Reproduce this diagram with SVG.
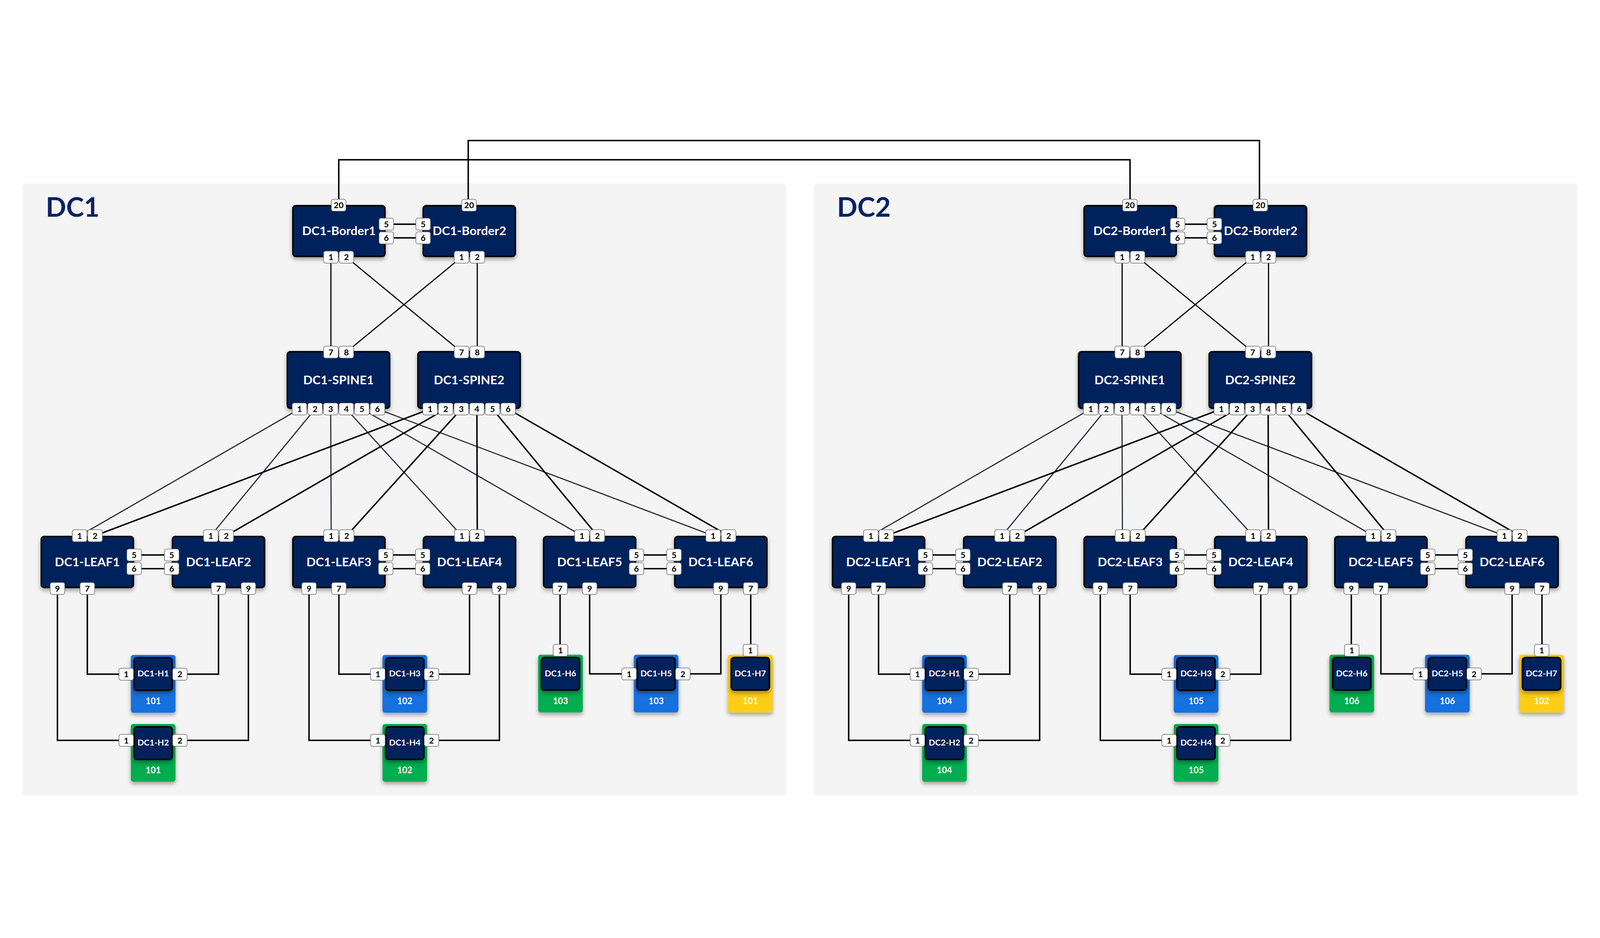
<svg xmlns="http://www.w3.org/2000/svg" width="5488" height="2402" viewBox="0 0 5488 2402">
<defs>
<style>
svg{width:100vw;height:100vh}
.panel{fill:#f4f4f4}
.title{font-family:Lato,'Liberation Sans',sans-serif;font-weight:700;font-size:92px;fill:#0b2260}
.n{fill:#03205c;stroke:#000;stroke-width:5;filter:url(#sh)}
.nl{font-family:Lato,'Liberation Sans',sans-serif;font-weight:700;font-size:42px;fill:#fff;text-anchor:middle}
.p rect{fill:#fff;stroke:#6a6a6a;stroke-width:2}
.p text{font-family:Lato,'Liberation Sans',sans-serif;font-weight:700;font-size:29px;fill:#000;text-anchor:middle}
.hb{fill:#1470de;filter:url(#sh)}
.hg{fill:#00ad50;filter:url(#sh)}
.hy{fill:#fccd16;filter:url(#sh)}
.hi{fill:#03205c;stroke:#000;stroke-width:5;filter:url(#sh)}
.hl{font-family:Lato,'Liberation Sans',sans-serif;font-weight:700;font-size:29px;fill:#fff;text-anchor:middle}
.hv{font-family:Lato,'Liberation Sans',sans-serif;font-weight:700;font-size:30px;fill:#fff;text-anchor:middle}
.lk{fill:none;stroke:#000;stroke-width:5}
.l1{fill:none;stroke:#2a2e36;stroke-width:4}
.l2{fill:none;stroke:#000;stroke-width:5}
.lb{fill:none;stroke:#000;stroke-width:4}
</style>
<filter id="sh" x="-20%" y="-20%" width="140%" height="160%">
<feDropShadow dx="0" dy="8" stdDeviation="7" flood-color="#000" flood-opacity="0.35"/>
</filter>
</defs>
<rect width="5488" height="2402" fill="#fff"/>
<g id="panels">
<rect class="panel" x="77" y="222" width="2620" height="2100" rx="10"/>
<text class="title" x="157" y="335">DC1</text>
<rect class="panel" x="2791" y="222" width="2620" height="2100" rx="10"/>
<text class="title" x="2871" y="335">DC2</text>
</g>
<g id="connectors">
<path class="lk" d="M1162 296V140H3876V296"/>
<path class="lk" d="M1606 296V74H4320V296"/>
<g id="dc1-links">
<path class="lb" d="M1135 474V800M1188 474L1583 800M1583 474L1188 800M1637 474V800"/>
<path class="lk" d="M1325 361H1451.5M1325 408H1451.5"/>
<path class="l1" d="M1027.25 995L273 1430M1080.75 995L723 1430M1134.25 995L1136 1430M1187.75 995L1584 1430M1241.25 995L1996 1430M1294.75 995L2446 1430"/>
<path class="l2" d="M1475.25 995L326 1430M1528.75 995L776 1430M1582.25 995L1189 1430M1635.75 995L1637 1430M1689.25 995L2049 1430M1742.75 995L2499 1430"/>
<path class="lk" d="M460 1496H589M460 1543H589M1323 1496H1450M1323 1543H1450M2183 1496H2312M2183 1543H2312"/>
<path class="lk" d="M299.5 1611V1905H433M749.5 1611V1905H617M197 1611V2132H433M852 1611V2132H617"/>
<path class="lk" d="M1162.5 1611V1905H1296M1610.5 1611V1905H1480M1060 1611V2132H1296M1713 1611V2132H1480"/>
<path class="lk" d="M1921 1611V1823M2022.5 1611V1904H2158M2472.5 1611V1904H2342M2575 1611V1823"/>
</g>
<g id="dc2-links" transform="translate(2714 0)">
<path class="lb" d="M1135 474V800M1188 474L1583 800M1583 474L1188 800M1637 474V800"/>
<path class="lk" d="M1325 361H1451.5M1325 408H1451.5"/>
<path class="l1" d="M1027.25 995L273 1430M1080.75 995L723 1430M1134.25 995L1136 1430M1187.75 995L1584 1430M1241.25 995L1996 1430M1294.75 995L2446 1430"/>
<path class="l2" d="M1475.25 995L326 1430M1528.75 995L776 1430M1582.25 995L1189 1430M1635.75 995L1637 1430M1689.25 995L2049 1430M1742.75 995L2499 1430"/>
<path class="lk" d="M460 1496H589M460 1543H589M1323 1496H1450M1323 1543H1450M2183 1496H2312M2183 1543H2312"/>
<path class="lk" d="M299.5 1611V1905H433M749.5 1611V1905H617M197 1611V2132H433M852 1611V2132H617"/>
<path class="lk" d="M1162.5 1611V1905H1296M1610.5 1611V1905H1480M1060 1611V2132H1296M1713 1611V2132H1480"/>
<path class="lk" d="M1921 1611V1823M2022.5 1611V1904H2158M2472.5 1611V1904H2342M2575 1611V1823"/>
</g>
</g>

<g id="dc1-nodes">
<g id="dc1-border1"><rect class="n" x="1004.5" y="297.5" width="316" height="174" rx="10"/><text class="nl" x="1162.5" y="399">DC1-Border1</text>
<g class="p" transform="translate(1161.5 296)"><rect x="-25" y="-20.5" width="50" height="41" rx="7"/><text y="10.5">20</text></g>
<g class="p" transform="translate(1325 361)"><rect x="-25" y="-20.5" width="50" height="41" rx="7"/><text y="10.5">5</text></g>
<g class="p" transform="translate(1325 408)"><rect x="-25" y="-20.5" width="50" height="41" rx="7"/><text y="10.5">6</text></g>
<g class="p" transform="translate(1135 474)"><rect x="-25" y="-20.5" width="50" height="41" rx="7"/><text y="10.5">1</text></g>
<g class="p" transform="translate(1188 474)"><rect x="-25" y="-20.5" width="50" height="41" rx="7"/><text y="10.5">2</text></g>
</g>
<g id="dc1-border2"><rect class="n" x="1451.5" y="297.5" width="316" height="174" rx="10"/><text class="nl" x="1610" y="399">DC1-Border2</text>
<g class="p" transform="translate(1609 296)"><rect x="-25" y="-20.5" width="50" height="41" rx="7"/><text y="10.5">20</text></g>
<g class="p" transform="translate(1451.5 361)"><rect x="-25" y="-20.5" width="50" height="41" rx="7"/><text y="10.5">5</text></g>
<g class="p" transform="translate(1451.5 408)"><rect x="-25" y="-20.5" width="50" height="41" rx="7"/><text y="10.5">6</text></g>
<g class="p" transform="translate(1583 474)"><rect x="-25" y="-20.5" width="50" height="41" rx="7"/><text y="10.5">1</text></g>
<g class="p" transform="translate(1637 474)"><rect x="-25" y="-20.5" width="50" height="41" rx="7"/><text y="10.5">2</text></g>
</g>
<g id="dc1-spine1"><rect class="n" x="985.5" y="798.5" width="351" height="194" rx="10"/><text class="nl" x="1161" y="910">DC1-SPINE1</text>
<g class="p" transform="translate(1135 800)"><rect x="-25" y="-20.5" width="50" height="41" rx="7"/><text y="10.5">7</text></g>
<g class="p" transform="translate(1188 800)"><rect x="-25" y="-20.5" width="50" height="41" rx="7"/><text y="10.5">8</text></g>
<g class="p" transform="translate(1027.25 995)"><rect x="-25" y="-20.5" width="50" height="41" rx="7"/><text y="10.5">1</text></g>
<g class="p" transform="translate(1080.75 995)"><rect x="-25" y="-20.5" width="50" height="41" rx="7"/><text y="10.5">2</text></g>
<g class="p" transform="translate(1134.25 995)"><rect x="-25" y="-20.5" width="50" height="41" rx="7"/><text y="10.5">3</text></g>
<g class="p" transform="translate(1187.75 995)"><rect x="-25" y="-20.5" width="50" height="41" rx="7"/><text y="10.5">4</text></g>
<g class="p" transform="translate(1241.25 995)"><rect x="-25" y="-20.5" width="50" height="41" rx="7"/><text y="10.5">5</text></g>
<g class="p" transform="translate(1294.75 995)"><rect x="-25" y="-20.5" width="50" height="41" rx="7"/><text y="10.5">6</text></g>
</g>
<g id="dc1-spine2"><rect class="n" x="1433.5" y="798.5" width="351" height="194" rx="10"/><text class="nl" x="1609" y="910">DC1-SPINE2</text>
<g class="p" transform="translate(1583 800)"><rect x="-25" y="-20.5" width="50" height="41" rx="7"/><text y="10.5">7</text></g>
<g class="p" transform="translate(1637 800)"><rect x="-25" y="-20.5" width="50" height="41" rx="7"/><text y="10.5">8</text></g>
<g class="p" transform="translate(1475.25 995)"><rect x="-25" y="-20.5" width="50" height="41" rx="7"/><text y="10.5">1</text></g>
<g class="p" transform="translate(1528.75 995)"><rect x="-25" y="-20.5" width="50" height="41" rx="7"/><text y="10.5">2</text></g>
<g class="p" transform="translate(1582.25 995)"><rect x="-25" y="-20.5" width="50" height="41" rx="7"/><text y="10.5">3</text></g>
<g class="p" transform="translate(1635.75 995)"><rect x="-25" y="-20.5" width="50" height="41" rx="7"/><text y="10.5">4</text></g>
<g class="p" transform="translate(1689.25 995)"><rect x="-25" y="-20.5" width="50" height="41" rx="7"/><text y="10.5">5</text></g>
<g class="p" transform="translate(1742.75 995)"><rect x="-25" y="-20.5" width="50" height="41" rx="7"/><text y="10.5">6</text></g>
</g>
<g id="dc1-leaf1"><rect class="n" x="141.5" y="1432.5" width="316" height="175" rx="10"/><text class="nl" x="299.5" y="1535">DC1-LEAF1</text>
<g class="p" transform="translate(273 1430)"><rect x="-25" y="-20.5" width="50" height="41" rx="7"/><text y="10.5">1</text></g>
<g class="p" transform="translate(326 1430)"><rect x="-25" y="-20.5" width="50" height="41" rx="7"/><text y="10.5">2</text></g>
<g class="p" transform="translate(460 1496)"><rect x="-25" y="-20.5" width="50" height="41" rx="7"/><text y="10.5">5</text></g>
<g class="p" transform="translate(460 1543)"><rect x="-25" y="-20.5" width="50" height="41" rx="7"/><text y="10.5">6</text></g>
<g class="p" transform="translate(197 1611)"><rect x="-25" y="-20.5" width="50" height="41" rx="7"/><text y="10.5">9</text></g>
<g class="p" transform="translate(299.5 1611)"><rect x="-25" y="-20.5" width="50" height="41" rx="7"/><text y="10.5">7</text></g>
</g>
<g id="dc1-leaf2"><rect class="n" x="591.5" y="1432.5" width="316" height="175" rx="10"/><text class="nl" x="749.5" y="1535">DC1-LEAF2</text>
<g class="p" transform="translate(723 1430)"><rect x="-25" y="-20.5" width="50" height="41" rx="7"/><text y="10.5">1</text></g>
<g class="p" transform="translate(776 1430)"><rect x="-25" y="-20.5" width="50" height="41" rx="7"/><text y="10.5">2</text></g>
<g class="p" transform="translate(589 1496)"><rect x="-25" y="-20.5" width="50" height="41" rx="7"/><text y="10.5">5</text></g>
<g class="p" transform="translate(589 1543)"><rect x="-25" y="-20.5" width="50" height="41" rx="7"/><text y="10.5">6</text></g>
<g class="p" transform="translate(749.5 1611)"><rect x="-25" y="-20.5" width="50" height="41" rx="7"/><text y="10.5">7</text></g>
<g class="p" transform="translate(852 1611)"><rect x="-25" y="-20.5" width="50" height="41" rx="7"/><text y="10.5">9</text></g>
</g>
<g id="dc1-leaf3"><rect class="n" x="1004.5" y="1432.5" width="316" height="175" rx="10"/><text class="nl" x="1162.5" y="1535">DC1-LEAF3</text>
<g class="p" transform="translate(1136 1430)"><rect x="-25" y="-20.5" width="50" height="41" rx="7"/><text y="10.5">1</text></g>
<g class="p" transform="translate(1189 1430)"><rect x="-25" y="-20.5" width="50" height="41" rx="7"/><text y="10.5">2</text></g>
<g class="p" transform="translate(1323 1496)"><rect x="-25" y="-20.5" width="50" height="41" rx="7"/><text y="10.5">5</text></g>
<g class="p" transform="translate(1323 1543)"><rect x="-25" y="-20.5" width="50" height="41" rx="7"/><text y="10.5">6</text></g>
<g class="p" transform="translate(1060 1611)"><rect x="-25" y="-20.5" width="50" height="41" rx="7"/><text y="10.5">9</text></g>
<g class="p" transform="translate(1162.5 1611)"><rect x="-25" y="-20.5" width="50" height="41" rx="7"/><text y="10.5">7</text></g>
</g>
<g id="dc1-leaf4"><rect class="n" x="1452.5" y="1432.5" width="316" height="175" rx="10"/><text class="nl" x="1610.5" y="1535">DC1-LEAF4</text>
<g class="p" transform="translate(1584 1430)"><rect x="-25" y="-20.5" width="50" height="41" rx="7"/><text y="10.5">1</text></g>
<g class="p" transform="translate(1637 1430)"><rect x="-25" y="-20.5" width="50" height="41" rx="7"/><text y="10.5">2</text></g>
<g class="p" transform="translate(1450 1496)"><rect x="-25" y="-20.5" width="50" height="41" rx="7"/><text y="10.5">5</text></g>
<g class="p" transform="translate(1450 1543)"><rect x="-25" y="-20.5" width="50" height="41" rx="7"/><text y="10.5">6</text></g>
<g class="p" transform="translate(1610.5 1611)"><rect x="-25" y="-20.5" width="50" height="41" rx="7"/><text y="10.5">7</text></g>
<g class="p" transform="translate(1713 1611)"><rect x="-25" y="-20.5" width="50" height="41" rx="7"/><text y="10.5">9</text></g>
</g>
<g id="dc1-leaf5"><rect class="n" x="1864.5" y="1432.5" width="316" height="175" rx="10"/><text class="nl" x="2022.5" y="1535">DC1-LEAF5</text>
<g class="p" transform="translate(1996 1430)"><rect x="-25" y="-20.5" width="50" height="41" rx="7"/><text y="10.5">1</text></g>
<g class="p" transform="translate(2049 1430)"><rect x="-25" y="-20.5" width="50" height="41" rx="7"/><text y="10.5">2</text></g>
<g class="p" transform="translate(2183 1496)"><rect x="-25" y="-20.5" width="50" height="41" rx="7"/><text y="10.5">5</text></g>
<g class="p" transform="translate(2183 1543)"><rect x="-25" y="-20.5" width="50" height="41" rx="7"/><text y="10.5">6</text></g>
<g class="p" transform="translate(1921 1611)"><rect x="-25" y="-20.5" width="50" height="41" rx="7"/><text y="10.5">7</text></g>
<g class="p" transform="translate(2022.5 1611)"><rect x="-25" y="-20.5" width="50" height="41" rx="7"/><text y="10.5">9</text></g>
</g>
<g id="dc1-leaf6"><rect class="n" x="2314.5" y="1432.5" width="316" height="175" rx="10"/><text class="nl" x="2472.5" y="1535">DC1-LEAF6</text>
<g class="p" transform="translate(2446 1430)"><rect x="-25" y="-20.5" width="50" height="41" rx="7"/><text y="10.5">1</text></g>
<g class="p" transform="translate(2499 1430)"><rect x="-25" y="-20.5" width="50" height="41" rx="7"/><text y="10.5">2</text></g>
<g class="p" transform="translate(2312 1496)"><rect x="-25" y="-20.5" width="50" height="41" rx="7"/><text y="10.5">5</text></g>
<g class="p" transform="translate(2312 1543)"><rect x="-25" y="-20.5" width="50" height="41" rx="7"/><text y="10.5">6</text></g>
<g class="p" transform="translate(2472.5 1611)"><rect x="-25" y="-20.5" width="50" height="41" rx="7"/><text y="10.5">9</text></g>
<g class="p" transform="translate(2575 1611)"><rect x="-25" y="-20.5" width="50" height="41" rx="7"/><text y="10.5">7</text></g>
</g>
<g id="dc1-h1"><rect class="hb" x="449" y="1839" width="153" height="198" rx="8"/><rect class="hi" x="460" y="1848.5" width="131" height="112" rx="10"/><text class="hl" x="525.5" y="1913">DC1-H1</text><text class="hv" x="525.5" y="2008">101</text>
<g class="p" transform="translate(433 1905)"><rect x="-25" y="-20.5" width="50" height="41" rx="7"/><text y="10.5">1</text></g>
<g class="p" transform="translate(617 1905)"><rect x="-25" y="-20.5" width="50" height="41" rx="7"/><text y="10.5">2</text></g>
</g>
<g id="dc1-h2"><rect class="hg" x="449" y="2076" width="153" height="198" rx="8"/><rect class="hi" x="460" y="2085.5" width="131" height="112" rx="10"/><text class="hl" x="525.5" y="2150">DC1-H2</text><text class="hv" x="525.5" y="2245">101</text>
<g class="p" transform="translate(433 2132)"><rect x="-25" y="-20.5" width="50" height="41" rx="7"/><text y="10.5">1</text></g>
<g class="p" transform="translate(617 2132)"><rect x="-25" y="-20.5" width="50" height="41" rx="7"/><text y="10.5">2</text></g>
</g>
<g id="dc1-h3"><rect class="hb" x="1312" y="1839" width="153" height="198" rx="8"/><rect class="hi" x="1323" y="1848.5" width="131" height="112" rx="10"/><text class="hl" x="1388.5" y="1913">DC1-H3</text><text class="hv" x="1388.5" y="2008">102</text>
<g class="p" transform="translate(1296 1905)"><rect x="-25" y="-20.5" width="50" height="41" rx="7"/><text y="10.5">1</text></g>
<g class="p" transform="translate(1480 1905)"><rect x="-25" y="-20.5" width="50" height="41" rx="7"/><text y="10.5">2</text></g>
</g>
<g id="dc1-h4"><rect class="hg" x="1312" y="2076" width="153" height="198" rx="8"/><rect class="hi" x="1323" y="2085.5" width="131" height="112" rx="10"/><text class="hl" x="1388.5" y="2150">DC1-H4</text><text class="hv" x="1388.5" y="2245">102</text>
<g class="p" transform="translate(1296 2132)"><rect x="-25" y="-20.5" width="50" height="41" rx="7"/><text y="10.5">1</text></g>
<g class="p" transform="translate(1480 2132)"><rect x="-25" y="-20.5" width="50" height="41" rx="7"/><text y="10.5">2</text></g>
</g>
<g id="dc1-h6"><rect class="hg" x="1846" y="1838" width="153" height="198" rx="8"/><rect class="hi" x="1857" y="1847.5" width="131" height="112" rx="10"/><text class="hl" x="1922.5" y="1912">DC1-H6</text><text class="hv" x="1922.5" y="2007">103</text>
<g class="p" transform="translate(1922.5 1823)"><rect x="-25" y="-20.5" width="50" height="41" rx="7"/><text y="10.5">1</text></g>
</g>
<g id="dc1-h5"><rect class="hb" x="2174" y="1838" width="153" height="198" rx="8"/><rect class="hi" x="2185" y="1847.5" width="131" height="112" rx="10"/><text class="hl" x="2250.5" y="1912">DC1-H5</text><text class="hv" x="2250.5" y="2007">103</text>
<g class="p" transform="translate(2158 1904)"><rect x="-25" y="-20.5" width="50" height="41" rx="7"/><text y="10.5">1</text></g>
<g class="p" transform="translate(2342 1904)"><rect x="-25" y="-20.5" width="50" height="41" rx="7"/><text y="10.5">2</text></g>
</g>
<g id="dc1-h7"><rect class="hy" x="2497" y="1838" width="153" height="198" rx="8"/><rect class="hi" x="2508" y="1847.5" width="131" height="112" rx="10"/><text class="hl" x="2573.5" y="1912">DC1-H7</text><text class="hv" x="2573.5" y="2007">101</text>
<g class="p" transform="translate(2574 1823)"><rect x="-25" y="-20.5" width="50" height="41" rx="7"/><text y="10.5">1</text></g>
</g>
</g>

<g id="dc2-nodes" transform="translate(2714 0)">
<g id="dc2-border1"><rect class="n" x="1004.5" y="297.5" width="316" height="174" rx="10"/><text class="nl" x="1162.5" y="399">DC2-Border1</text>
<g class="p" transform="translate(1161.5 296)"><rect x="-25" y="-20.5" width="50" height="41" rx="7"/><text y="10.5">20</text></g>
<g class="p" transform="translate(1325 361)"><rect x="-25" y="-20.5" width="50" height="41" rx="7"/><text y="10.5">5</text></g>
<g class="p" transform="translate(1325 408)"><rect x="-25" y="-20.5" width="50" height="41" rx="7"/><text y="10.5">6</text></g>
<g class="p" transform="translate(1135 474)"><rect x="-25" y="-20.5" width="50" height="41" rx="7"/><text y="10.5">1</text></g>
<g class="p" transform="translate(1188 474)"><rect x="-25" y="-20.5" width="50" height="41" rx="7"/><text y="10.5">2</text></g>
</g>
<g id="dc2-border2"><rect class="n" x="1451.5" y="297.5" width="316" height="174" rx="10"/><text class="nl" x="1610" y="399">DC2-Border2</text>
<g class="p" transform="translate(1609 296)"><rect x="-25" y="-20.5" width="50" height="41" rx="7"/><text y="10.5">20</text></g>
<g class="p" transform="translate(1451.5 361)"><rect x="-25" y="-20.5" width="50" height="41" rx="7"/><text y="10.5">5</text></g>
<g class="p" transform="translate(1451.5 408)"><rect x="-25" y="-20.5" width="50" height="41" rx="7"/><text y="10.5">6</text></g>
<g class="p" transform="translate(1583 474)"><rect x="-25" y="-20.5" width="50" height="41" rx="7"/><text y="10.5">1</text></g>
<g class="p" transform="translate(1637 474)"><rect x="-25" y="-20.5" width="50" height="41" rx="7"/><text y="10.5">2</text></g>
</g>
<g id="dc2-spine1"><rect class="n" x="985.5" y="798.5" width="351" height="194" rx="10"/><text class="nl" x="1161" y="910">DC2-SPINE1</text>
<g class="p" transform="translate(1135 800)"><rect x="-25" y="-20.5" width="50" height="41" rx="7"/><text y="10.5">7</text></g>
<g class="p" transform="translate(1188 800)"><rect x="-25" y="-20.5" width="50" height="41" rx="7"/><text y="10.5">8</text></g>
<g class="p" transform="translate(1027.25 995)"><rect x="-25" y="-20.5" width="50" height="41" rx="7"/><text y="10.5">1</text></g>
<g class="p" transform="translate(1080.75 995)"><rect x="-25" y="-20.5" width="50" height="41" rx="7"/><text y="10.5">2</text></g>
<g class="p" transform="translate(1134.25 995)"><rect x="-25" y="-20.5" width="50" height="41" rx="7"/><text y="10.5">3</text></g>
<g class="p" transform="translate(1187.75 995)"><rect x="-25" y="-20.5" width="50" height="41" rx="7"/><text y="10.5">4</text></g>
<g class="p" transform="translate(1241.25 995)"><rect x="-25" y="-20.5" width="50" height="41" rx="7"/><text y="10.5">5</text></g>
<g class="p" transform="translate(1294.75 995)"><rect x="-25" y="-20.5" width="50" height="41" rx="7"/><text y="10.5">6</text></g>
</g>
<g id="dc2-spine2"><rect class="n" x="1433.5" y="798.5" width="351" height="194" rx="10"/><text class="nl" x="1609" y="910">DC2-SPINE2</text>
<g class="p" transform="translate(1583 800)"><rect x="-25" y="-20.5" width="50" height="41" rx="7"/><text y="10.5">7</text></g>
<g class="p" transform="translate(1637 800)"><rect x="-25" y="-20.5" width="50" height="41" rx="7"/><text y="10.5">8</text></g>
<g class="p" transform="translate(1475.25 995)"><rect x="-25" y="-20.5" width="50" height="41" rx="7"/><text y="10.5">1</text></g>
<g class="p" transform="translate(1528.75 995)"><rect x="-25" y="-20.5" width="50" height="41" rx="7"/><text y="10.5">2</text></g>
<g class="p" transform="translate(1582.25 995)"><rect x="-25" y="-20.5" width="50" height="41" rx="7"/><text y="10.5">3</text></g>
<g class="p" transform="translate(1635.75 995)"><rect x="-25" y="-20.5" width="50" height="41" rx="7"/><text y="10.5">4</text></g>
<g class="p" transform="translate(1689.25 995)"><rect x="-25" y="-20.5" width="50" height="41" rx="7"/><text y="10.5">5</text></g>
<g class="p" transform="translate(1742.75 995)"><rect x="-25" y="-20.5" width="50" height="41" rx="7"/><text y="10.5">6</text></g>
</g>
<g id="dc2-leaf1"><rect class="n" x="141.5" y="1432.5" width="316" height="175" rx="10"/><text class="nl" x="299.5" y="1535">DC2-LEAF1</text>
<g class="p" transform="translate(273 1430)"><rect x="-25" y="-20.5" width="50" height="41" rx="7"/><text y="10.5">1</text></g>
<g class="p" transform="translate(326 1430)"><rect x="-25" y="-20.5" width="50" height="41" rx="7"/><text y="10.5">2</text></g>
<g class="p" transform="translate(460 1496)"><rect x="-25" y="-20.5" width="50" height="41" rx="7"/><text y="10.5">5</text></g>
<g class="p" transform="translate(460 1543)"><rect x="-25" y="-20.5" width="50" height="41" rx="7"/><text y="10.5">6</text></g>
<g class="p" transform="translate(197 1611)"><rect x="-25" y="-20.5" width="50" height="41" rx="7"/><text y="10.5">9</text></g>
<g class="p" transform="translate(299.5 1611)"><rect x="-25" y="-20.5" width="50" height="41" rx="7"/><text y="10.5">7</text></g>
</g>
<g id="dc2-leaf2"><rect class="n" x="591.5" y="1432.5" width="316" height="175" rx="10"/><text class="nl" x="749.5" y="1535">DC2-LEAF2</text>
<g class="p" transform="translate(723 1430)"><rect x="-25" y="-20.5" width="50" height="41" rx="7"/><text y="10.5">1</text></g>
<g class="p" transform="translate(776 1430)"><rect x="-25" y="-20.5" width="50" height="41" rx="7"/><text y="10.5">2</text></g>
<g class="p" transform="translate(589 1496)"><rect x="-25" y="-20.5" width="50" height="41" rx="7"/><text y="10.5">5</text></g>
<g class="p" transform="translate(589 1543)"><rect x="-25" y="-20.5" width="50" height="41" rx="7"/><text y="10.5">6</text></g>
<g class="p" transform="translate(749.5 1611)"><rect x="-25" y="-20.5" width="50" height="41" rx="7"/><text y="10.5">7</text></g>
<g class="p" transform="translate(852 1611)"><rect x="-25" y="-20.5" width="50" height="41" rx="7"/><text y="10.5">9</text></g>
</g>
<g id="dc2-leaf3"><rect class="n" x="1004.5" y="1432.5" width="316" height="175" rx="10"/><text class="nl" x="1162.5" y="1535">DC2-LEAF3</text>
<g class="p" transform="translate(1136 1430)"><rect x="-25" y="-20.5" width="50" height="41" rx="7"/><text y="10.5">1</text></g>
<g class="p" transform="translate(1189 1430)"><rect x="-25" y="-20.5" width="50" height="41" rx="7"/><text y="10.5">2</text></g>
<g class="p" transform="translate(1323 1496)"><rect x="-25" y="-20.5" width="50" height="41" rx="7"/><text y="10.5">5</text></g>
<g class="p" transform="translate(1323 1543)"><rect x="-25" y="-20.5" width="50" height="41" rx="7"/><text y="10.5">6</text></g>
<g class="p" transform="translate(1060 1611)"><rect x="-25" y="-20.5" width="50" height="41" rx="7"/><text y="10.5">9</text></g>
<g class="p" transform="translate(1162.5 1611)"><rect x="-25" y="-20.5" width="50" height="41" rx="7"/><text y="10.5">7</text></g>
</g>
<g id="dc2-leaf4"><rect class="n" x="1452.5" y="1432.5" width="316" height="175" rx="10"/><text class="nl" x="1610.5" y="1535">DC2-LEAF4</text>
<g class="p" transform="translate(1584 1430)"><rect x="-25" y="-20.5" width="50" height="41" rx="7"/><text y="10.5">1</text></g>
<g class="p" transform="translate(1637 1430)"><rect x="-25" y="-20.5" width="50" height="41" rx="7"/><text y="10.5">2</text></g>
<g class="p" transform="translate(1450 1496)"><rect x="-25" y="-20.5" width="50" height="41" rx="7"/><text y="10.5">5</text></g>
<g class="p" transform="translate(1450 1543)"><rect x="-25" y="-20.5" width="50" height="41" rx="7"/><text y="10.5">6</text></g>
<g class="p" transform="translate(1610.5 1611)"><rect x="-25" y="-20.5" width="50" height="41" rx="7"/><text y="10.5">7</text></g>
<g class="p" transform="translate(1713 1611)"><rect x="-25" y="-20.5" width="50" height="41" rx="7"/><text y="10.5">9</text></g>
</g>
<g id="dc2-leaf5"><rect class="n" x="1864.5" y="1432.5" width="316" height="175" rx="10"/><text class="nl" x="2022.5" y="1535">DC2-LEAF5</text>
<g class="p" transform="translate(1996 1430)"><rect x="-25" y="-20.5" width="50" height="41" rx="7"/><text y="10.5">1</text></g>
<g class="p" transform="translate(2049 1430)"><rect x="-25" y="-20.5" width="50" height="41" rx="7"/><text y="10.5">2</text></g>
<g class="p" transform="translate(2183 1496)"><rect x="-25" y="-20.5" width="50" height="41" rx="7"/><text y="10.5">5</text></g>
<g class="p" transform="translate(2183 1543)"><rect x="-25" y="-20.5" width="50" height="41" rx="7"/><text y="10.5">6</text></g>
<g class="p" transform="translate(1921 1611)"><rect x="-25" y="-20.5" width="50" height="41" rx="7"/><text y="10.5">9</text></g>
<g class="p" transform="translate(2022.5 1611)"><rect x="-25" y="-20.5" width="50" height="41" rx="7"/><text y="10.5">7</text></g>
</g>
<g id="dc2-leaf6"><rect class="n" x="2314.5" y="1432.5" width="316" height="175" rx="10"/><text class="nl" x="2472.5" y="1535">DC2-LEAF6</text>
<g class="p" transform="translate(2446 1430)"><rect x="-25" y="-20.5" width="50" height="41" rx="7"/><text y="10.5">1</text></g>
<g class="p" transform="translate(2499 1430)"><rect x="-25" y="-20.5" width="50" height="41" rx="7"/><text y="10.5">2</text></g>
<g class="p" transform="translate(2312 1496)"><rect x="-25" y="-20.5" width="50" height="41" rx="7"/><text y="10.5">5</text></g>
<g class="p" transform="translate(2312 1543)"><rect x="-25" y="-20.5" width="50" height="41" rx="7"/><text y="10.5">6</text></g>
<g class="p" transform="translate(2472.5 1611)"><rect x="-25" y="-20.5" width="50" height="41" rx="7"/><text y="10.5">9</text></g>
<g class="p" transform="translate(2575 1611)"><rect x="-25" y="-20.5" width="50" height="41" rx="7"/><text y="10.5">7</text></g>
</g>
<g id="dc2-h1"><rect class="hb" x="449" y="1839" width="153" height="198" rx="8"/><rect class="hi" x="460" y="1848.5" width="131" height="112" rx="10"/><text class="hl" x="525.5" y="1913">DC2-H1</text><text class="hv" x="525.5" y="2008">104</text>
<g class="p" transform="translate(433 1905)"><rect x="-25" y="-20.5" width="50" height="41" rx="7"/><text y="10.5">1</text></g>
<g class="p" transform="translate(617 1905)"><rect x="-25" y="-20.5" width="50" height="41" rx="7"/><text y="10.5">2</text></g>
</g>
<g id="dc2-h2"><rect class="hg" x="449" y="2076" width="153" height="198" rx="8"/><rect class="hi" x="460" y="2085.5" width="131" height="112" rx="10"/><text class="hl" x="525.5" y="2150">DC2-H2</text><text class="hv" x="525.5" y="2245">104</text>
<g class="p" transform="translate(433 2132)"><rect x="-25" y="-20.5" width="50" height="41" rx="7"/><text y="10.5">1</text></g>
<g class="p" transform="translate(617 2132)"><rect x="-25" y="-20.5" width="50" height="41" rx="7"/><text y="10.5">2</text></g>
</g>
<g id="dc2-h3"><rect class="hb" x="1312" y="1839" width="153" height="198" rx="8"/><rect class="hi" x="1323" y="1848.5" width="131" height="112" rx="10"/><text class="hl" x="1388.5" y="1913">DC2-H3</text><text class="hv" x="1388.5" y="2008">105</text>
<g class="p" transform="translate(1296 1905)"><rect x="-25" y="-20.5" width="50" height="41" rx="7"/><text y="10.5">1</text></g>
<g class="p" transform="translate(1480 1905)"><rect x="-25" y="-20.5" width="50" height="41" rx="7"/><text y="10.5">2</text></g>
</g>
<g id="dc2-h4"><rect class="hg" x="1312" y="2076" width="153" height="198" rx="8"/><rect class="hi" x="1323" y="2085.5" width="131" height="112" rx="10"/><text class="hl" x="1388.5" y="2150">DC2-H4</text><text class="hv" x="1388.5" y="2245">105</text>
<g class="p" transform="translate(1296 2132)"><rect x="-25" y="-20.5" width="50" height="41" rx="7"/><text y="10.5">1</text></g>
<g class="p" transform="translate(1480 2132)"><rect x="-25" y="-20.5" width="50" height="41" rx="7"/><text y="10.5">2</text></g>
</g>
<g id="dc2-h6"><rect class="hg" x="1846" y="1838" width="153" height="198" rx="8"/><rect class="hi" x="1857" y="1847.5" width="131" height="112" rx="10"/><text class="hl" x="1922.5" y="1912">DC2-H6</text><text class="hv" x="1922.5" y="2007">106</text>
<g class="p" transform="translate(1922.5 1823)"><rect x="-25" y="-20.5" width="50" height="41" rx="7"/><text y="10.5">1</text></g>
</g>
<g id="dc2-h5"><rect class="hb" x="2174" y="1838" width="153" height="198" rx="8"/><rect class="hi" x="2185" y="1847.5" width="131" height="112" rx="10"/><text class="hl" x="2250.5" y="1912">DC2-H5</text><text class="hv" x="2250.5" y="2007">106</text>
<g class="p" transform="translate(2158 1904)"><rect x="-25" y="-20.5" width="50" height="41" rx="7"/><text y="10.5">1</text></g>
<g class="p" transform="translate(2342 1904)"><rect x="-25" y="-20.5" width="50" height="41" rx="7"/><text y="10.5">2</text></g>
</g>
<g id="dc2-h7"><rect class="hy" x="2497" y="1838" width="153" height="198" rx="8"/><rect class="hi" x="2508" y="1847.5" width="131" height="112" rx="10"/><text class="hl" x="2573.5" y="1912">DC2-H7</text><text class="hv" x="2573.5" y="2007">102</text>
<g class="p" transform="translate(2574 1823)"><rect x="-25" y="-20.5" width="50" height="41" rx="7"/><text y="10.5">1</text></g>
</g>
</g>
</svg>
